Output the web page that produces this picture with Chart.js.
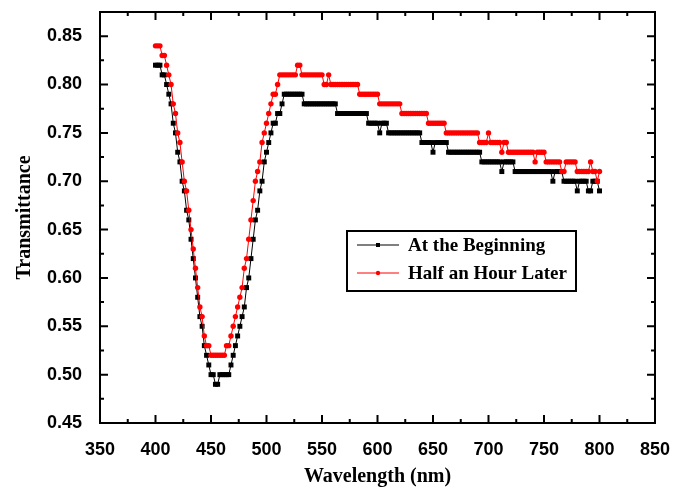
<!DOCTYPE html>
<html>
<head>
<meta charset="utf-8">
<title>Transmittance</title>
<script src="https://cdn.jsdelivr.net/npm/chart.js@4.4.1/dist/chart.umd.min.js"></script>
<style>
  html, body { margin: 0; padding: 0; background: #fff; }
  canvas { display: block; }
</style>
</head>
<body>
<canvas id="spectrum" width="684" height="489"></canvas>
<script>
// wavelength grid (nm)
const wavelengths = [
  400, 402, 404, 406, 408, 410, 412, 414, 416, 418, 420, 422, 424, 426, 428, 430, 432, 434, 436, 438,
  440, 442, 444, 446, 448, 450, 452, 454, 456, 458, 460, 462, 464, 466, 468, 470, 472, 474, 476, 478,
  480, 482, 484, 486, 488, 490, 492, 494, 496, 498, 500, 502, 504, 506, 508, 510, 512, 514, 516, 518,
  520, 522, 524, 526, 528, 530, 532, 534, 536, 538, 540, 542, 544, 546, 548, 550, 552, 554, 556, 558,
  560, 562, 564, 566, 568, 570, 572, 574, 576, 578, 580, 582, 584, 586, 588, 590, 592, 594, 596, 598,
  600, 602, 604, 606, 608, 610, 612, 614, 616, 618, 620, 622, 624, 626, 628, 630, 632, 634, 636, 638,
  640, 642, 644, 646, 648, 650, 652, 654, 656, 658, 660, 662, 664, 666, 668, 670, 672, 674, 676, 678,
  680, 682, 684, 686, 688, 690, 692, 694, 696, 698, 700, 702, 704, 706, 708, 710, 712, 714, 716, 718,
  720, 722, 724, 726, 728, 730, 732, 734, 736, 738, 740, 742, 744, 746, 748, 750, 752, 754, 756, 758,
  760, 762, 764, 766, 768, 770, 772, 774, 776, 778, 780, 782, 784, 786, 788, 790, 792, 794, 796, 798,
  800
];

// transmittance right after preparation
const atBeginning = [
  0.82, 0.82, 0.82, 0.81, 0.81, 0.80, 0.79, 0.78, 0.76, 0.75,  // 400
  0.73, 0.72, 0.70, 0.69, 0.67, 0.66, 0.64, 0.62, 0.60, 0.58,  // 420
  0.56, 0.55, 0.53, 0.52, 0.51, 0.50, 0.50, 0.49, 0.49, 0.50,  // 440
  0.50, 0.50, 0.50, 0.50, 0.51, 0.52, 0.53, 0.54, 0.55, 0.56,  // 460
  0.57, 0.59, 0.60, 0.62, 0.64, 0.66, 0.67, 0.69, 0.70, 0.72,  // 480
  0.73, 0.74, 0.75, 0.76, 0.76, 0.77, 0.77, 0.78, 0.79, 0.79,  // 500
  0.79, 0.79, 0.79, 0.79, 0.79, 0.79, 0.79, 0.78, 0.78, 0.78,  // 520
  0.78, 0.78, 0.78, 0.78, 0.78, 0.78, 0.78, 0.78, 0.78, 0.78,  // 540
  0.78, 0.78, 0.77, 0.77, 0.77, 0.77, 0.77, 0.77, 0.77, 0.77,  // 560
  0.77, 0.77, 0.77, 0.77, 0.77, 0.77, 0.76, 0.76, 0.76, 0.76,  // 580
  0.76, 0.75, 0.76, 0.76, 0.76, 0.75, 0.75, 0.75, 0.75, 0.75,  // 600
  0.75, 0.75, 0.75, 0.75, 0.75, 0.75, 0.75, 0.75, 0.75, 0.75,  // 620
  0.74, 0.74, 0.74, 0.74, 0.74, 0.73, 0.74, 0.74, 0.74, 0.74,  // 640
  0.74, 0.74, 0.73, 0.73, 0.73, 0.73, 0.73, 0.73, 0.73, 0.73,  // 660
  0.73, 0.73, 0.73, 0.73, 0.73, 0.73, 0.73, 0.72, 0.72, 0.72,  // 680
  0.72, 0.72, 0.72, 0.72, 0.72, 0.72, 0.71, 0.72, 0.72, 0.72,  // 700
  0.72, 0.72, 0.71, 0.71, 0.71, 0.71, 0.71, 0.71, 0.71, 0.71,  // 720
  0.71, 0.71, 0.71, 0.71, 0.71, 0.71, 0.71, 0.71, 0.71, 0.70,  // 740
  0.71, 0.71, 0.71, 0.71, 0.70, 0.70, 0.70, 0.70, 0.70, 0.70,  // 760
  0.69, 0.70, 0.70, 0.70, 0.70, 0.69, 0.69, 0.70, 0.70, 0.70,  // 780
  0.69
];

// transmittance after 30 minutes
const halfHourLater = [
  0.84, 0.84, 0.84, 0.83, 0.83, 0.82, 0.81, 0.80, 0.78, 0.77,  // 400
  0.75, 0.74, 0.72, 0.70, 0.69, 0.67, 0.65, 0.63, 0.61, 0.59,  // 420
  0.57, 0.56, 0.54, 0.53, 0.53, 0.52, 0.52, 0.52, 0.52, 0.52,  // 440
  0.52, 0.52, 0.53, 0.53, 0.54, 0.55, 0.56, 0.57, 0.58, 0.59,  // 460
  0.61, 0.62, 0.64, 0.66, 0.68, 0.70, 0.71, 0.72, 0.74, 0.75,  // 480
  0.76, 0.77, 0.78, 0.79, 0.79, 0.80, 0.81, 0.81, 0.81, 0.81,  // 500
  0.81, 0.81, 0.81, 0.81, 0.82, 0.82, 0.81, 0.81, 0.81, 0.81,  // 520
  0.81, 0.81, 0.81, 0.81, 0.81, 0.81, 0.80, 0.80, 0.81, 0.80,  // 540
  0.80, 0.80, 0.80, 0.80, 0.80, 0.80, 0.80, 0.80, 0.80, 0.80,  // 560
  0.80, 0.80, 0.79, 0.79, 0.79, 0.79, 0.79, 0.79, 0.79, 0.79,  // 580
  0.79, 0.78, 0.78, 0.78, 0.78, 0.78, 0.78, 0.78, 0.78, 0.78,  // 600
  0.78, 0.77, 0.77, 0.77, 0.77, 0.77, 0.77, 0.77, 0.77, 0.77,  // 620
  0.77, 0.77, 0.77, 0.76, 0.76, 0.76, 0.76, 0.76, 0.76, 0.76,  // 640
  0.76, 0.75, 0.75, 0.75, 0.75, 0.75, 0.75, 0.75, 0.75, 0.75,  // 660
  0.75, 0.75, 0.75, 0.75, 0.75, 0.75, 0.74, 0.74, 0.74, 0.74,  // 680
  0.75, 0.74, 0.74, 0.74, 0.74, 0.74, 0.73, 0.74, 0.74, 0.73,  // 700
  0.73, 0.73, 0.73, 0.73, 0.73, 0.73, 0.73, 0.73, 0.73, 0.73,  // 720
  0.73, 0.72, 0.73, 0.73, 0.73, 0.73, 0.72, 0.72, 0.72, 0.72,  // 740
  0.72, 0.72, 0.72, 0.71, 0.71, 0.72, 0.72, 0.72, 0.72, 0.72,  // 760
  0.71, 0.71, 0.71, 0.71, 0.71, 0.71, 0.72, 0.71, 0.71, 0.70,  // 780
  0.71
];

const seriesLabels = ['At the Beginning', 'Half an Hour Later'];
const xTickValues = [350, 400, 450, 500, 550, 600, 650, 700, 750, 800, 850];
const yTickValues = [0.45, 0.50, 0.55, 0.60, 0.65, 0.70, 0.75, 0.80, 0.85];

const toPoints = ys => wavelengths.map((w, i) => ({ x: w, y: ys[i] }));

// closed frame with inward major/minor ticks on all four sides
const frameTicks = {
  id: 'frameTicks',
  afterDraw(chart) {
    const { ctx, chartArea: a, scales: { x, y } } = chart;
    const major = 8, minor = 4;
    ctx.save();
    ctx.strokeStyle = '#000';
    ctx.lineWidth = 2;
    ctx.strokeRect(a.left, a.top, a.right - a.left, a.bottom - a.top);
    ctx.beginPath();
    const xs = x.ticks.map(t => t.value);
    xs.forEach((v, i) => {
      const px = x.getPixelForValue(v);
      ctx.moveTo(px, a.bottom); ctx.lineTo(px, a.bottom - major);
      ctx.moveTo(px, a.top); ctx.lineTo(px, a.top + major);
      if (i < xs.length - 1) {
        const mx = x.getPixelForValue((v + xs[i + 1]) / 2);
        ctx.moveTo(mx, a.bottom); ctx.lineTo(mx, a.bottom - minor);
        ctx.moveTo(mx, a.top); ctx.lineTo(mx, a.top + minor);
      }
    });
    const ys = y.ticks.map(t => t.value);
    ys.forEach((v, i) => {
      const py = y.getPixelForValue(v);
      ctx.moveTo(a.left, py); ctx.lineTo(a.left + major, py);
      ctx.moveTo(a.right, py); ctx.lineTo(a.right - major, py);
      if (i < ys.length - 1) {
        const my = y.getPixelForValue((v + ys[i + 1]) / 2);
        ctx.moveTo(a.left, my); ctx.lineTo(a.left + minor, my);
        ctx.moveTo(a.right, my); ctx.lineTo(a.right - minor, my);
      }
    });
    ctx.stroke();
    ctx.restore();
  }
};

// boxed legend sitting inside the plot
const boxLegend = {
  id: 'boxLegend',
  afterDraw(chart, args, opts) {
    const { ctx } = chart;
    ctx.save();
    ctx.strokeStyle = '#000';
    ctx.lineWidth = 2;
    ctx.strokeRect(opts.left, opts.top, opts.width, opts.height);
    ctx.font = opts.font;
    ctx.textBaseline = 'middle';
    chart.data.datasets.forEach((ds, i) => {
      const cy = opts.top + opts.firstRow + i * opts.rowGap;
      const x0 = opts.left + 10;
      const cx = x0 + opts.lineLength / 2;
      ctx.strokeStyle = ds.borderColor;
      ctx.lineWidth = 1;
      ctx.beginPath();
      ctx.moveTo(x0, cy);
      ctx.lineTo(x0 + opts.lineLength, cy);
      ctx.stroke();
      ctx.fillStyle = ds.borderColor;
      if (ds.pointStyle === 'rect') {
        ctx.fillRect(cx - 2, cy - 2, 4, 4);
      } else {
        ctx.beginPath();
        ctx.arc(cx, cy, 2.2, 0, Math.PI * 2);
        ctx.fill();
      }
      ctx.fillStyle = '#000';
      ctx.fillText(ds.label, x0 + opts.lineLength + 9, cy + 1);
    });
    ctx.restore();
  }
};

const tickFont = { family: '"Liberation Sans", Arial, sans-serif', size: 18, weight: 'bold' };
const titleFont = { family: '"Liberation Serif", "Times New Roman", serif', size: 20, weight: 'bold' };

// fixed axis boxes, without the extra label overhang Chart.js reserves
const fixHeight = h => s => { s.height = h; s.paddingLeft = 0; s.paddingRight = 0; };
const fixWidth = w => s => { s.width = w; s.paddingTop = 0; s.paddingBottom = 0; };

new Chart(document.getElementById('spectrum'), {
  type: 'line',
  data: {
    datasets: [
      {
        label: seriesLabels[0],
        data: toPoints(atBeginning),
        borderColor: '#000000',
        backgroundColor: '#000000',
        borderWidth: 1,
        pointStyle: 'rect',
        pointRadius: 3.5,
        pointBorderWidth: 0,
        pointBackgroundColor: '#000000',
        order: 1
      },
      {
        label: seriesLabels[1],
        data: toPoints(halfHourLater),
        borderColor: '#ff0000',
        backgroundColor: '#ff0000',
        borderWidth: 1,
        pointStyle: 'circle',
        pointRadius: 2.7,
        pointBorderWidth: 0,
        pointBackgroundColor: '#ff0000',
        order: 0
      }
    ]
  },
  options: {
    responsive: false,
    animation: false,
    events: [],
    layout: { autoPadding: false, padding: { top: 12, right: 29, left: 0, bottom: 0 } },
    plugins: {
      legend: { display: false },
      tooltip: { enabled: false },
      boxLegend: {
        left: 347, top: 231, width: 229, height: 60,
        firstRow: 14, rowGap: 28, lineLength: 42,
        font: 'bold 19px "Liberation Serif", "Times New Roman", serif'
      }
    },
    scales: {
      x: {
        type: 'linear',
        min: 350,
        max: 850,
        afterFit: fixHeight(66),
        afterBuildTicks: s => { s.ticks = xTickValues.map(v => ({ value: v })); },
        grid: { display: false, drawTicks: false },
        border: { display: false },
        ticks: { color: '#000', font: tickFont, padding: 16, maxRotation: 0 },
        title: { display: true, text: 'Wavelength (nm)', color: '#000', font: titleFont, padding: { top: 0, bottom: 0 } }
      },
      y: {
        type: 'linear',
        min: 0.45,
        max: 0.875,
        afterFit: fixWidth(100),
        afterBuildTicks: s => { s.ticks = yTickValues.map(v => ({ value: v })); },
        grid: { display: false, drawTicks: false },
        border: { display: false },
        ticks: { color: '#000', font: tickFont, padding: 18, callback: v => v.toFixed(2) },
        title: { display: true, text: 'Transmittance', color: '#000', font: titleFont, padding: { top: 13, bottom: 0 } }
      }
    }
  },
  plugins: [frameTicks, boxLegend]
});
</script>
</body>
</html>
